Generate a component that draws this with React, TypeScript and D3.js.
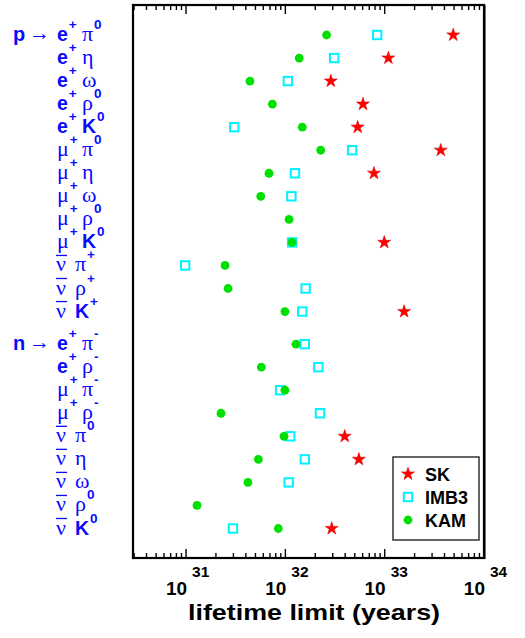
import React from 'react';
import * as d3 from 'd3';

const W = 525;
const H = 638;

// ---- data ----
const nucleons = ['p','p','p','p','p','p','p','p','p','p','p','p','p','n','n','n','n','n','n','n','n','n'];
const leptons = ['e+','e+','e+','e+','e+','μ+','μ+','μ+','μ+','μ+','ν̄','ν̄','ν̄','e+','e+','μ+','μ+','ν̄','ν̄','ν̄','ν̄','ν̄'];
const mesons = ['π0','η','ω','ρ0','K0','π0','η','ω','ρ0','K0','π+','ρ+','K+','π-','ρ-','π-','ρ-','π0','η','ω','ρ0','K0'];

const skLimits: (number | null)[] = [4.9e33, 1.09e33, 2.87e32, 6.05e32, 5.35e32, 3.67e33, 7.8e32, null, null, 9.9e32, null, null, 1.57e33, null, null, null, null, 3.96e32, 5.5e32, null, null, 2.93e32];
const imb3Limits: (number | null)[] = [8.4e32, 3.1e32, 1.06e32, null, 3.06e31, 4.7e32, 1.25e32, 1.15e32, null, 1.17e32, 9.8e30, 1.6e32, 1.48e32, 1.57e32, 2.15e32, 8.85e31, 2.23e32, 1.12e32, 1.57e32, 1.08e32, null, 2.97e31];
const kamLimits: (number | null)[] = [2.6e32, 1.38e32, 4.4e31, 7.4e31, 1.48e32, 2.27e32, 6.85e31, 5.65e31, 1.09e32, 1.17e32, 2.47e31, 2.65e31, 9.9e31, 1.28e32, 5.73e31, 9.9e31, 2.25e31, 9.7e31, 5.35e31, 4.2e31, 1.29e31, 8.5e31];

const majorExponents = [31, 32, 33, 34];
const legendNames = ['SK', 'IMB3', 'KAM'];
const axisTitle = 'lifetime limit (years)';

// ---- layout ----
const frame = { left: 133, right: 484, top: 5, bottom: 558 };
const SANS = 'Liberation Sans, Arial, Helvetica, sans-serif';
const SERIF = 'Liberation Serif, DejaVu Serif, Times New Roman, serif';
const BLUE = '#0a0aff';
const RED = '#ff0000';
const CYAN = '#00f2ff';
const GREEN = '#00e000';
const N_GAP = 0.414;

const slot = (i: number) => (nucleons[i] === 'n' ? i + N_GAP : i);

const x = d3.scaleLog().domain([Math.pow(10, 30.466), 1e34]).range([frame.left, frame.right]);
const y = d3.scaleLinear().domain([0, slot(nucleons.length - 1)]).range([35, 528.5]);

const starPath = d3.symbol().type(d3.symbolStar).size(52)() as string;

function Star({ cx, cy }: { cx: number; cy: number }) {
  return <path d={starPath} transform={`translate(${cx},${cy})`} fill={RED} stroke="#e00000" strokeWidth={0.6} />;
}
function Square({ cx, cy }: { cx: number; cy: number }) {
  return <rect x={cx - 4.2} y={cy - 4.2} width={8.4} height={8.4} fill="none" stroke={CYAN} strokeWidth={2} />;
}
function Dot({ cx, cy }: { cx: number; cy: number }) {
  return <circle cx={cx} cy={cy} r={4.4} fill={GREEN} />;
}

function isGreek(c: string) {
  return /[\u0370-\u03ff]/.test(c);
}

function Piece({ x0, base, text }: { x0: number; base: number; text: string }) {
  const main = text[0];
  const sup = text.slice(1);
  const greek = isGreek(main);
  return (
    <text x={x0} y={base} fill={BLUE}>
      <tspan fontFamily={greek ? SERIF : SANS} fontWeight={greek ? 'normal' : 'bold'} fontSize={greek ? 22 : 19.5}>
        {main}
      </tspan>
      {sup && (
        <tspan dx={1} dy={-12} fontFamily={SANS} fontWeight="bold" fontSize={13.5}>
          {sup}
        </tspan>
      )}
    </text>
  );
}

function RowLabel({ i }: { i: number }) {
  const cy = y(slot(i));
  const base = cy + 6;
  const first = i === 0 || nucleons[i] !== nucleons[i - 1];
  const lep = leptons[i];
  const isNu = lep === 'ν̄';
  return (
    <g>
      {first && (
        <>
          <text x={13} y={base} fill={BLUE} fontFamily={SANS} fontWeight="bold" fontSize={20}>
            {nucleons[i]}
          </text>
          <text x={29} y={base - 1} fill={BLUE} fontFamily={SERIF} fontSize={21}>
            →
          </text>
        </>
      )}
      {isNu ? (
        <>
          <text x={56} y={base} fill={BLUE} fontFamily={SERIF} fontSize={22}>
            ν
          </text>
          <line x1={56} x2={67} y1={cy - 10} y2={cy - 10} stroke={BLUE} strokeWidth={1.3} />
        </>
      ) : (
        <Piece x0={57} base={base} text={lep} />
      )}
      <Piece x0={isNu ? 75 : 82} base={base} text={mesons[i]} />
    </g>
  );
}

export default function App() {
  const ticks: { v: number; major: boolean }[] = [];
  for (let e = 30; e <= 33; e++) {
    for (let k = 1; k <= 9; k++) {
      const v = k * Math.pow(10, e);
      if (v >= x.domain()[0] * 1.001 && v <= 1e34) ticks.push({ v, major: k === 1 });
    }
  }
  const legendX = 393;
  const legendY = 457;
  return (
    <svg width={W} height={H} style={{ position: 'absolute', left: 0, top: 0, background: '#fff' }}>
      <rect width={W} height={H} fill="#fff" />
      {/* ticks */}
      {ticks.map((t, k) => {
        const L = t.major ? 9 : 5;
        const px = x(t.v);
        return (
          <g key={k} stroke="#000" strokeWidth={1.4}>
            <line x1={px} x2={px} y1={frame.top} y2={frame.top + L} />
            <line x1={px} x2={px} y1={frame.bottom} y2={frame.bottom - L} />
          </g>
        );
      })}
      <rect
        x={frame.left}
        y={frame.top}
        width={frame.right - frame.left}
        height={frame.bottom - frame.top}
        fill="none"
        stroke="#000"
        strokeWidth={2.2}
      />
      <line x1={frame.right + 0.8} x2={frame.right + 0.8} y1={frame.top} y2={frame.bottom + 1} stroke="#000" strokeWidth={1.4} />
      {/* tick labels */}
      {majorExponents.map((e) => {
        const px = x(Math.pow(10, e));
        return (
          <g key={e} fontFamily={SANS} fontWeight="bold" fill="#000">
            <text x={px + 1} y={595} textAnchor="end" fontSize={19}>
              10
            </text>
            <text x={px + 6} y={577} fontSize={15.5}>
              {e}
            </text>
          </g>
        );
      })}
      <text
        x={(188 + 440) / 2}
        y={620}
        textAnchor="middle"
        fontFamily={SANS}
        fontWeight="bold"
        fontSize={22}
        textLength={252}
        lengthAdjust="spacingAndGlyphs"
      >
        {axisTitle}
      </text>
      {/* row labels */}
      {nucleons.map((_, i) => (
        <RowLabel key={i} i={i} />
      ))}
      {/* markers */}
      {imb3Limits.map((v, i) => (v == null ? null : <Square key={'i' + i} cx={x(v)} cy={y(slot(i))} />))}
      {kamLimits.map((v, i) => (v == null ? null : <Dot key={'k' + i} cx={x(v)} cy={y(slot(i))} />))}
      {skLimits.map((v, i) => (v == null ? null : <Star key={'s' + i} cx={x(v)} cy={y(slot(i))} />))}
      {/* legend */}
      <rect x={legendX} y={legendY} width={86} height={83} fill="#fff" stroke="#333" strokeWidth={1.5} />
      {legendNames.map((name, k) => {
        const cy = 474 + k * 23;
        return (
          <g key={name}>
            {k === 0 && <Star cx={408} cy={cy} />}
            {k === 1 && <Square cx={408} cy={cy} />}
            {k === 2 && <Dot cx={408} cy={cy} />}
            <text x={425} y={cy + 6.5} fontFamily={SANS} fontWeight="bold" fontSize={18} fill="#000">
              {name}
            </text>
          </g>
        );
      })}
    </svg>
  );
}
